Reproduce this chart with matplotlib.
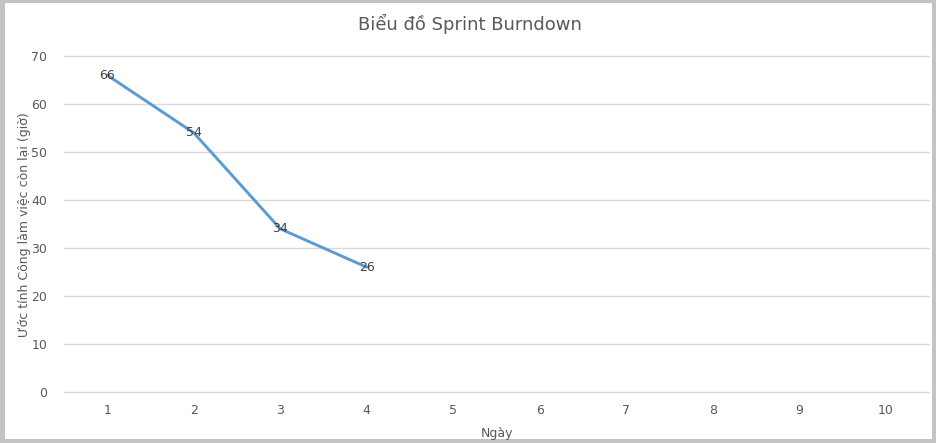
import matplotlib.pyplot as plt
from matplotlib.patches import Rectangle

# Biểu đồ Sprint Burndown - dữ liệu
ngay = [1, 2, 3, 4, 5, 6, 7, 8, 9, 10]
con_lai = [66, 54, 34, 26]
y_ticks = [0, 10, 20, 30, 40, 50, 60, 70]

W, H = 936, 443
fig = plt.figure(figsize=(W / 100, H / 100), dpi=100)
fig.patch.set_facecolor('#c3c3c3')

# Khung trắng bên trong viền xám
fig.patches.append(Rectangle((5 / W, 4 / H), (932 - 5) / W, (440 - 4) / H,
                             transform=fig.transFigure, facecolor='white',
                             edgecolor='none', zorder=-5))

ax = fig.add_axes([64 / W, (H - 392) / H, (929 - 64) / W, (392 - 56) / H])
ax.set_facecolor('none')

vi_tri = list(range(len(ngay)))
ax.plot(vi_tri[:len(con_lai)], con_lai, color='#5b9bd5', lw=2.1,
        solid_capstyle='round', zorder=2)
for xi, v in zip(vi_tri, con_lai):
    ax.text(xi, v, str(v), ha='center', va='center', fontsize=9,
            color='#404040', zorder=3)

ax.set_xlim(-0.5, len(ngay) - 0.5)
ax.set_ylim(0, 70)
ax.set_xticks(vi_tri)
ax.set_xticklabels([str(n) for n in ngay])
ax.set_yticks(y_ticks)
ax.grid(axis='y', color='#d9d9d9', lw=1)
for gl in ax.get_ygridlines():
    gl.set_clip_on(False)
ax.set_axisbelow(True)
for s in ax.spines.values():
    s.set_visible(False)
ax.tick_params(length=0, colors='#595959', labelsize=9)
ax.tick_params(axis='x', pad=9)
ax.tick_params(axis='y', pad=12)

fig.text(470 / W, 1 - 24 / H, 'Biểu đồ Sprint Burndown', ha='center',
         va='center', fontsize=13, color='#595959')
fig.text(497 / W, 1 - 434 / H, 'Ngày', ha='center', va='center',
         fontsize=9, color='#595959')
fig.text(25 / W, 1 - 225 / H, 'Ước tính Công làm việc còn lại (giờ)',
         ha='center', va='center', rotation=90, fontsize=9, color='#595959')

fig.savefig('out.png', dpi=100, facecolor=fig.get_facecolor())
